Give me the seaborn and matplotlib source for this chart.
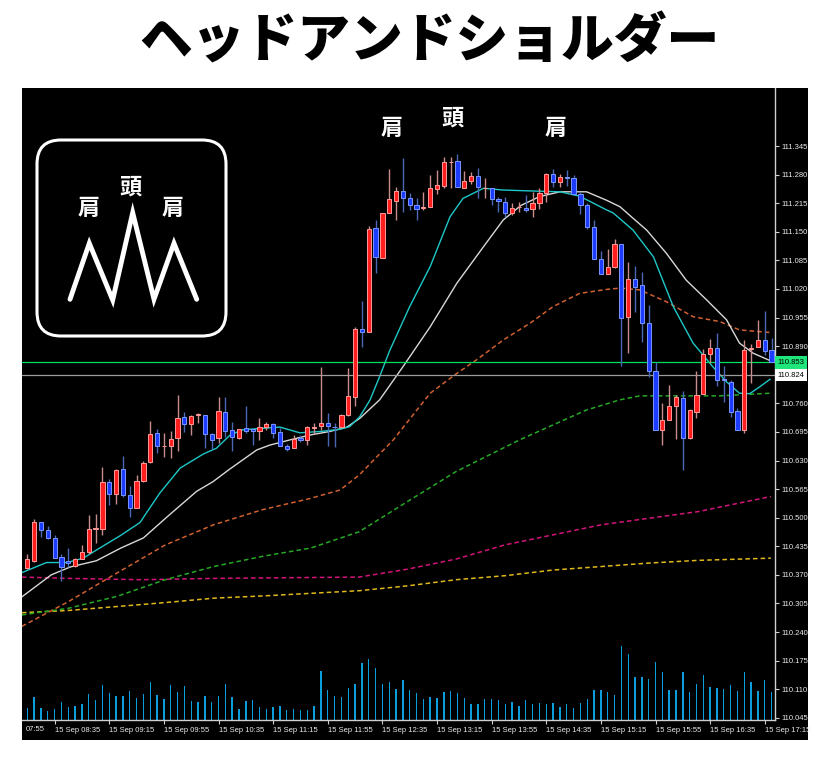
import numpy as np
import pandas as pd
import matplotlib as mpl
mpl.use("Agg")
import matplotlib.pyplot as plt
import matplotlib.transforms as mtransforms
from matplotlib.patches import FancyBboxPatch, Rectangle
import seaborn as sns

# ---- data (USDJPY 5-minute, 15 Sep) ----
OPEN = [110.385, 110.402, 110.490, 110.472, 110.453, 110.410, 110.402, 110.390, 110.407, 110.422,
        110.474, 110.475, 110.581, 110.553, 110.610, 110.551, 110.522, 110.584, 110.627, 110.692,
        110.662, 110.662, 110.681, 110.728, 110.713, 110.734, 110.733, 110.690, 110.681, 110.740,
        110.699, 110.681, 110.704, 110.702, 110.698, 110.706, 110.713, 110.694, 110.663, 110.659,
        110.681, 110.677, 110.703, 110.709, 110.715, 110.707, 110.706, 110.733, 110.775, 110.928,
        110.922, 111.158, 111.091, 111.193, 111.221, 111.243, 111.226, 111.211, 111.204, 111.207,
        111.247, 111.255, 111.308, 111.312, 111.250, 111.265, 111.277, 111.249, 111.249, 111.225,
        111.218, 111.192, 111.206, 111.205, 111.201, 111.215, 111.239, 111.281, 111.264, 111.274,
        111.272, 111.237, 111.212, 111.162, 111.088, 111.054, 111.069, 111.122, 110.956, 111.042,
        111.029, 110.943, 110.834, 110.700, 110.721, 110.753, 110.772, 110.681, 110.741, 110.781,
        110.872, 110.885, 110.815, 110.809, 110.743, 110.700, 110.884, 110.887, 110.904, 110.881]
HIGH = [110.417, 110.497, 110.491, 110.480, 110.461, 110.417, 110.431, 110.409, 110.437, 110.507,
        110.509, 110.616, 110.589, 110.610, 110.640, 110.571, 110.596, 110.628, 110.720, 110.701,
        110.693, 110.696, 110.779, 110.740, 110.734, 110.738, 110.734, 110.693, 110.775, 110.775,
        110.718, 110.701, 110.755, 110.702, 110.727, 110.718, 110.715, 110.703, 110.668, 110.688,
        110.688, 110.709, 110.716, 110.843, 110.739, 110.715, 110.736, 110.840, 110.934, 110.993,
        111.163, 111.177, 111.193, 111.292, 111.253, 111.317, 111.239, 111.226, 111.241, 111.279,
        111.290, 111.319, 111.321, 111.327, 111.289, 111.287, 111.294, 111.272, 111.249, 111.230,
        111.230, 111.215, 111.218, 111.234, 111.241, 111.249, 111.283, 111.292, 111.281, 111.290,
        111.279, 111.241, 111.215, 111.178, 111.106, 111.112, 111.133, 111.122, 111.081, 111.072,
        111.059, 110.984, 110.853, 110.760, 110.802, 110.779, 110.787, 110.747, 110.834, 110.883,
        110.906, 110.919, 110.845, 110.812, 110.749, 110.904, 110.895, 110.950, 110.970, 110.908]
LOW = [110.383, 110.400, 110.455, 110.451, 110.408, 110.357, 110.389, 110.389, 110.406, 110.418,
       110.442, 110.461, 110.529, 110.531, 110.548, 110.501, 110.521, 110.582, 110.625, 110.647,
       110.638, 110.635, 110.652, 110.694, 110.688, 110.715, 110.658, 110.656, 110.669, 110.684,
       110.652, 110.678, 110.693, 110.665, 110.677, 110.700, 110.681, 110.662, 110.652, 110.658,
       110.671, 110.665, 110.690, 110.700, 110.662, 110.660, 110.703, 110.731, 110.754, 110.887,
       110.922, 111.056, 111.090, 111.193, 111.177, 111.196, 111.200, 111.178, 111.200, 111.206,
       111.236, 111.249, 111.249, 111.253, 111.249, 111.258, 111.228, 111.228, 111.211, 111.196,
       111.183, 111.188, 111.196, 111.196, 111.183, 111.201, 111.218, 111.253, 111.253, 111.254,
       111.236, 111.190, 111.156, 111.088, 111.054, 111.054, 111.068, 110.846, 110.875, 110.968,
       110.900, 110.821, 110.700, 110.665, 110.721, 110.678, 110.609, 110.678, 110.726, 110.781,
       110.851, 110.800, 110.762, 110.728, 110.700, 110.692, 110.806, 110.887, 110.870, 110.853]
CLOSE = [110.406, 110.490, 110.472, 110.453, 110.409, 110.389, 110.398, 110.406, 110.422, 110.475,
         110.477, 110.582, 110.553, 110.609, 110.551, 110.522, 110.584, 110.624, 110.690, 110.662,
         110.663, 110.680, 110.727, 110.713, 110.731, 110.736, 110.690, 110.676, 110.742, 110.696,
         110.684, 110.701, 110.696, 110.696, 110.706, 110.713, 110.693, 110.663, 110.656, 110.679,
         110.677, 110.706, 110.706, 110.716, 110.709, 110.706, 110.734, 110.777, 110.928, 110.923,
         111.156, 111.093, 111.192, 111.225, 111.243, 111.226, 111.211, 111.203, 111.206, 111.249,
         111.256, 111.308, 111.309, 111.253, 111.265, 111.278, 111.251, 111.250, 111.224, 111.219,
         111.192, 111.205, 111.207, 111.200, 111.215, 111.239, 111.281, 111.264, 111.275, 111.272,
         111.237, 111.211, 111.160, 111.088, 111.054, 111.071, 111.122, 110.953, 111.042, 111.025,
         110.943, 110.834, 110.700, 110.721, 110.754, 110.774, 110.681, 110.745, 110.779, 110.872,
         110.885, 110.813, 110.812, 110.741, 110.700, 110.881, 110.885, 110.904, 110.880, 110.853]
VOLUME = [37, 68, 37, 27, 34, 53, 40, 43, 47, 79, 61, 104, 81, 71, 71, 86, 65, 79, 114, 76,
          63, 104, 83, 101, 58, 53, 71, 53, 71, 107, 68, 32, 58, 61, 40, 32, 40, 43, 30, 32,
          30, 30, 43, 148, 89, 71, 68, 96, 107, 171, 183, 155, 107, 114, 94, 119, 89, 81, 63, 68,
          65, 83, 86, 81, 65, 48, 48, 63, 63, 61, 48, 53, 43, 61, 48, 50, 48, 50, 40, 48,
          37, 50, 63, 91, 89, 83, 76, 222, 199, 130, 130, 122, 173, 145, 89, 91, 143, 83, 109, 135,
          99, 96, 94, 106, 86, 145, 114, 86, 119, 83]

# moving averages, read at bar positions
CYAN_X = [-0.8, 2.8, 5.8, 8.2, 10.6, 13.6, 16.5, 19.4, 22.4, 25.8, 27.7, 29.7, 31.6, 37.0, 39.9,
          42.9, 45.8, 47.2, 48.7, 50.2, 51.6, 53.1, 56.0, 59.0, 61.9, 63.8, 66.8, 69.7, 73.6, 78.0,
          80.9, 84.8, 85.8, 88.7, 91.7, 94.6, 97.5, 100.4, 102.4, 104.3, 105.8, 107.3, 108.8]
CYAN_Y = [110.375, 110.398, 110.398, 110.408, 110.431, 110.459, 110.489, 110.556, 110.613, 110.645,
          110.658, 110.688, 110.700, 110.706, 110.693, 110.696, 110.701, 110.707, 110.730, 110.768,
          110.821, 110.881, 110.980, 111.071, 111.184, 111.226, 111.249, 111.245, 111.243, 111.241,
          111.231, 111.200, 111.193, 111.154, 111.093, 110.980, 110.897, 110.843, 110.809, 110.783,
          110.782, 110.798, 110.815]
WHITE_X = [-0.8, 3.5, 6.3, 10.1, 13.7, 17.0, 20.7, 24.8, 27.2, 29.6, 33.6, 35.5, 38.5, 41.4, 44.3,
           46.8, 48.7, 51.6, 55.0, 59.0, 62.9, 66.8, 69.7, 72.3, 75.0, 78.0, 81.9, 84.8, 86.8, 88.7,
           90.7, 93.6, 96.5, 99.5, 102.4, 104.3, 106.3, 108.8]
WHITE_Y = [110.320, 110.370, 110.388, 110.402, 110.431, 110.454, 110.505, 110.560, 110.582, 110.610,
           110.654, 110.665, 110.677, 110.688, 110.696, 110.706, 110.726, 110.768, 110.843, 110.934,
           111.033, 111.116, 111.177, 111.210, 111.230, 111.241, 111.241, 111.222, 111.207, 111.181,
           111.154, 111.101, 111.040, 110.995, 110.950, 110.897, 110.874, 110.857]
ORANGE_X = [-0.8, 6.0, 13.1, 20.2, 27.3, 34.4, 41.5, 45.8, 48.6, 53.6, 59.0, 62.9, 65.8, 69.7, 73.6,
            77.0, 80.9, 84.8, 86.8, 89.7, 93.6, 97.5, 101.4, 104.3, 108.8]
ORANGE_Y = [110.253, 110.309, 110.374, 110.438, 110.484, 110.518, 110.544, 110.563, 110.597, 110.677,
            110.783, 110.828, 110.859, 110.904, 110.942, 110.980, 111.010, 111.019, 111.022, 111.018,
            110.991, 110.957, 110.946, 110.927, 110.921]
GREEN_X = [-0.8, 6.0, 13.1, 20.2, 27.3, 34.4, 41.5, 48.6, 55.7, 62.8, 72.1, 77.0, 81.9, 86.8, 89.7,
           96.5, 101.4, 108.8]
GREEN_Y = [110.279, 110.294, 110.321, 110.359, 110.389, 110.412, 110.431, 110.468, 110.537, 110.605,
           110.677, 110.711, 110.745, 110.768, 110.777, 110.777, 110.777, 110.783]
MAGENTA_X = [-0.8, 6.0, 16.7, 27.3, 41.5, 48.6, 55.7, 62.8, 69.9, 77.0, 84.1, 91.2, 98.3, 105.4, 108.9]
MAGENTA_Y = [110.365, 110.362, 110.359, 110.362, 110.364, 110.365, 110.383, 110.406, 110.438, 110.461,
             110.484, 110.499, 110.514, 110.537, 110.548]
YELLOW_X = [-0.8, 6.0, 13.1, 20.2, 27.3, 34.4, 41.5, 48.6, 55.7, 62.8, 69.9, 77.0, 84.1, 91.2, 98.3, 108.9]
YELLOW_Y = [110.284, 110.289, 110.298, 110.307, 110.317, 110.322, 110.328, 110.334, 110.345, 110.359,
            110.368, 110.381, 110.389, 110.397, 110.403, 110.408]

BID = 110.853
ASK_LINE = 110.824

PRICE_TICKS = [110.045, 110.110, 110.175, 110.240, 110.305, 110.370, 110.435, 110.500, 110.565,
               110.630, 110.695, 110.760, 110.890, 110.955, 111.020, 111.085, 111.150, 111.215,
               111.280, 111.345]
TIME_TICK_POS = [4, 12, 20, 28, 36, 44, 52, 60, 68, 76, 84, 92, 100, 108]
TIME_LABELS = ["15 Sep 08:35", "15 Sep 09:15", "15 Sep 09:55", "15 Sep 10:35", "15 Sep 11:15",
               "15 Sep 11:55", "15 Sep 12:35", "15 Sep 13:15", "15 Sep 13:55", "15 Sep 14:35",
               "15 Sep 15:15", "15 Sep 15:55", "15 Sep 16:35", "15 Sep 17:15"]

TITLE = "ヘッドアンドショルダー"
# pattern labels on the chart: (bar, price, text)
PATTERN_LABELS = [(53.4, 111.386, "肩"), (62.2, 111.409, "頭"), (77.4, 111.386, "肩")]

sns.set_theme(style="dark", rc={"axes.facecolor": "black", "figure.facecolor": "white"})
plt.rcParams['font.family'] = ['DejaVu Sans']
JP = ['Noto Sans CJK JP', 'DejaVu Sans']
AX_FONT = 'Liberation Sans'

W, H = 833, 759
fig = plt.figure(figsize=(W / 100, H / 100), dpi=100, facecolor='white')

# black terminal panel
fig.patches.append(Rectangle((22 / W, 1 - 740 / H), 786 / W, 652 / H, transform=fig.transFigure,
                             facecolor='black', edgecolor='none', zorder=-10))

rect = [22 / W, 1 - 720 / H, 753 / W, 632 / H]
axv = fig.add_axes(rect)
axv.set_axis_off()
ax = fig.add_axes(rect)
ax.patch.set_alpha(0)

df = pd.DataFrame({"open": OPEN, "high": HIGH, "low": LOW, "close": CLOSE, "volume": VOLUME})
df["bar"] = np.arange(len(df))
up = df["close"] >= df["open"]

# volume (bottom overlay)
axv.bar(df["bar"], df["volume"], width=0.2, color='#0a9fdc', linewidth=0)
axv.set_xlim(-0.78, 109.5)
axv.set_ylim(0, 1896)

# moving averages
dash = (0, (3, 2))
sns.lineplot(x=YELLOW_X, y=YELLOW_Y, ax=ax, color='#e0b81c', linewidth=1.1, linestyle=dash, sort=False)
sns.lineplot(x=MAGENTA_X, y=MAGENTA_Y, ax=ax, color='#d4147c', linewidth=1.1, linestyle=dash, sort=False)
sns.lineplot(x=GREEN_X, y=GREEN_Y, ax=ax, color='#26a826', linewidth=1.1, linestyle=dash, sort=False)
sns.lineplot(x=ORANGE_X, y=ORANGE_Y, ax=ax, color='#d06030', linewidth=1.1, linestyle=dash, sort=False)
sns.lineplot(x=WHITE_X, y=WHITE_Y, ax=ax, color='#d8d8d8', linewidth=1.0, sort=False)
sns.lineplot(x=CYAN_X, y=CYAN_Y, ax=ax, color='#1ec8c8', linewidth=1.0, sort=False)

ax.axhline(BID, color='#00e060', linewidth=0.9)
ax.axhline(ASK_LINE, color='#9c9c9c', linewidth=0.9)

# candles
wick_c = np.where(up, '#c88c8c', '#4a68b4')
ax.vlines(df["bar"], df["low"], df["high"], colors=wick_c, linewidth=1.0, zorder=3)
body_lo = np.minimum(df["open"], df["close"])
body_h = np.abs(df["close"] - df["open"])
ax.bar(df["bar"][up], body_h[up], bottom=body_lo[up], width=0.62,
       color='#ff1e1e', edgecolor='#ff9a9a', linewidth=0.7, zorder=4)
ax.bar(df["bar"][~up], body_h[~up], bottom=body_lo[~up], width=0.62,
       color='#1e3cff', edgecolor='#7a96ff', linewidth=0.7, zorder=4)

ax.set_xlim(-0.78, 109.5)
ax.set_ylim(110.040, 111.477)
ax.grid(False)
ax.set_xlabel("")
ax.set_ylabel("")

for s in ["top", "left"]:
    ax.spines[s].set_visible(False)
for s in ["right", "bottom"]:
    ax.spines[s].set_color('#d0d0d0')
    ax.spines[s].set_linewidth(1.0)

ax.yaxis.tick_right()
ax.set_yticks(PRICE_TICKS)
ax.set_yticklabels([f"{v:.3f}" for v in PRICE_TICKS], family=AX_FONT)
ax.set_xticks(TIME_TICK_POS)
ax.set_xticklabels(TIME_LABELS, family=AX_FONT)
ax.tick_params(axis='y', direction='out', length=3, width=0.8, color='#d0d0d0',
               labelcolor='#ececec', labelsize=5.5, pad=1.5, right=True, left=False)
ax.tick_params(axis='x', direction='out', length=3, width=0.8, color='#d0d0d0',
               labelcolor='#ececec', labelsize=5.5, pad=2, bottom=True)
for lbl in ax.get_xticklabels():
    lbl.set_ha('left')

trans_x = mtransforms.blended_transform_factory(ax.transData, ax.transAxes)
ax.text(-0.2, -0.0155, "07:55", transform=trans_x, ha='left', va='center', fontsize=5.5,
        color='#ececec', family=AX_FONT)

trans_y = mtransforms.blended_transform_factory(ax.transAxes, ax.transData)
ax.text(1.003, BID, f"{BID:.3f}", transform=trans_y, ha='left', va='center', fontsize=5.5,
        color='black', family=AX_FONT, bbox=dict(boxstyle='square,pad=0.35', fc='#1ee67a', ec='none'))
ax.text(1.003, ASK_LINE, f"{ASK_LINE:.3f}", transform=trans_y, ha='left', va='center', fontsize=5.5,
        color='black', family=AX_FONT, bbox=dict(boxstyle='square,pad=0.35', fc='white', ec='none'))

for bx, py, t in PATTERN_LABELS:
    ax.text(bx, py, t, ha='center', va='center', fontsize=16, fontweight='bold', color='white', family=JP)

# title
fig.text(0.515, 1 - 42 / H, TITLE, ha='center', va='center', fontsize=38, fontweight='black',
         color='black', family=JP)

# head-and-shoulders icon
ICON_LINE_X = [35, 54.3, 77.7, 97.7, 119, 139, 161.7]
ICON_LINE_Y = [161.3, 105.3, 162, 74.7, 161.3, 105.3, 161.3]
ICON_TEXT = [(53.3, 70.3, "肩"), (95.7, 49.3, "頭"), (137.3, 70.3, "肩")]
axi = fig.add_axes([35 / W, 1 - 338 / H, 193 / W, 200 / H])
axi.set_xlim(0, 193)
axi.set_ylim(200, 0)
axi.set_axis_off()
axi.add_patch(FancyBboxPatch((2, 2), 189, 196, boxstyle='round,pad=0,rounding_size=24',
                             fill=False, edgecolor='white', linewidth=2.2))
axi.plot(ICON_LINE_X, ICON_LINE_Y, color='white', linewidth=3.5, solid_joinstyle='miter')
for ix, iy, t in ICON_TEXT:
    axi.text(ix, iy, t, ha='center', va='center', fontsize=16, fontweight='bold', color='white', family=JP)

fig.savefig("out.png", dpi=100, facecolor='white')
